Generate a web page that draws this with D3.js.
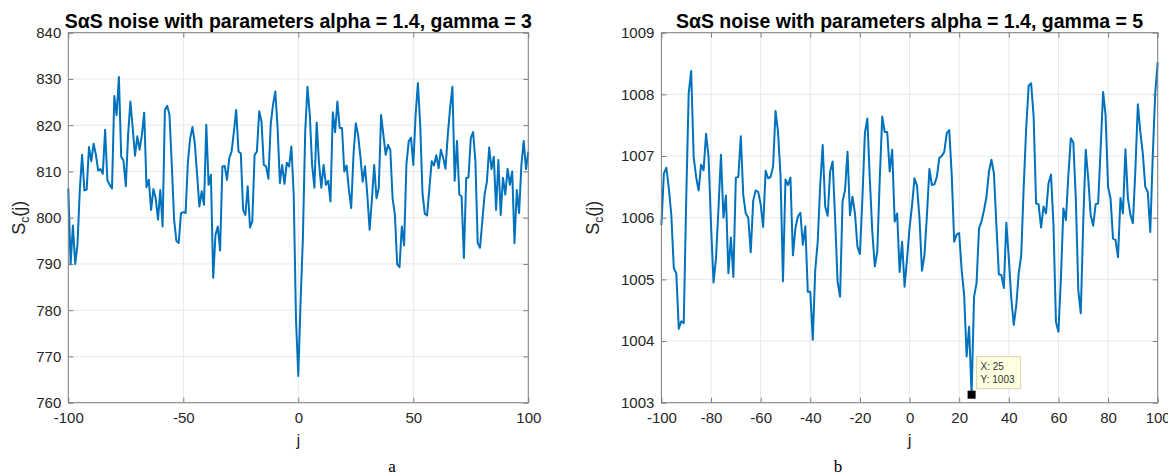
<!DOCTYPE html>
<html><head><meta charset="utf-8">
<script src="https://cdn.jsdelivr.net/npm/d3@7"></script>
<style>
html,body{margin:0;padding:0;background:#fff;}
svg text{font-family:"Liberation Sans",Arial,Helvetica,sans-serif;}
</style></head>
<body>
<svg id="chart" width="1168" height="475"></svg>
<script>
// ---------------- data ----------------
const jValues = d3.range(-100, 101);   // integer lags j = -100 ... 100

const seriesA = [
806.3,789.9,798.3,790,794.2,806,813.6,805.9,806.1,815.3,
812.2,816,813.6,810.2,810.5,809.5,819,808.1,807.1,806.3,
826.3,822.2,830.4,813.2,812.3,806.8,817.9,825.1,819.4,813.4,
817.6,814.7,817.9,822.7,806.6,808.2,801.7,806.2,804.2,799.6,
806,798.1,823.3,824.2,822.2,811.4,799.6,795,794.5,801,
801.2,801,812,817.2,819.6,816.1,809.3,802.4,805.7,802.8,
820.1,807.1,809.3,787,796.3,798.1,792.9,811.1,811.2,808.2,
812.9,814.3,818.6,823.3,814.3,813.9,801.7,800.6,806.8,797.9,
799.2,813.6,814.3,823,820.8,811.4,811.1,808.4,820.1,824.4,
827.3,819.4,807.5,811.4,807.3,811.9,811.1,815.4,805,778,
765.8,782,795.6,818.6,828.3,822.2,811.4,806.5,820.6,811.8,
806.5,811.4,807.1,808,803.5,822.8,818.5,825.1,819.4,819.4,
810,811.3,806,802.1,813.6,820.4,817.9,813.2,807.8,811.1,
805,797.4,803.9,811.4,804.2,806.4,822.2,817.9,813.6,815.7,
814.7,804.2,800.6,789.9,789.3,798.1,794,811.4,816.5,817.3,
811.4,822.2,829.1,820.1,805.3,800.8,800.5,806.4,812.2,811.3,
813.5,810.7,814.7,812.9,810.6,817.9,823.7,828.3,808,816.6,
805,804.6,791.3,808.6,808.7,817.2,818.5,812.2,794.5,793.5,
799.2,805,807.8,815.2,810.5,813.2,801.7,812.5,800.6,808.6,
805,810.6,807.1,810,794.5,806,801,811.4,816.6,810.5,
814.3
];

const seriesB = [
1005.88,1006.72,1006.81,1006.48,1006.04,1005.18,1005.1,1004.2,1004.32,1004.29,
1006.3,1008.02,1008.38,1006.99,1006.66,1006.44,1006.86,1006.77,1007.36,1006.99,
1005.88,1004.95,1005.34,1006.15,1007.02,1006.0,1006.36,1005.1,1005.68,1005.04,
1006.65,1006.66,1007.32,1006.36,1006.07,1006.0,1005.44,1006.28,1006.44,1006.42,
1006.22,1005.85,1006.76,1006.64,1006.66,1006.83,1007.73,1007.39,1006.69,1004.97,
1006.62,1006.53,1006.65,1005.39,1005.83,1006.02,1006.08,1005.56,1005.86,1004.8,
1004.8,1004.02,1005.15,1005.62,1006.53,1007.18,1006.18,1006.03,1006.75,1006.91,
1005.99,1004.96,1004.72,1006.26,1006.45,1007.07,1006.04,1006.34,1006.07,1005.53,
1005.41,1006.31,1007.37,1007.61,1006.61,1005.77,1005.21,1005.45,1006.64,1007.64,
1007.39,1007.39,1006.75,1007.1,1005.94,1006.07,1005.12,1005.61,1004.88,1005.34,
1005.83,1006.2,1006.64,1006.52,1005.99,1005.14,1005.39,1006.04,1006.79,1006.53,
1006.54,1006.66,1006.97,1007.0,1007.07,1007.37,1007.42,1006.69,1005.61,1005.73,
1005.75,1005.15,1004.75,1003.75,1004.23,1003.13,1004.72,1004.94,1005.83,1005.94,
1006.12,1006.34,1006.75,1006.94,1006.72,1005.88,1005.08,1005.07,1004.86,1005.92,
1005.34,1004.69,1004.26,1004.58,1005.1,1005.39,1006.5,1007.45,1008.14,1008.18,
1007.64,1006.23,1006.22,1005.84,1006.18,1006.07,1006.56,1006.7,1005.88,1004.31,
1004.15,1005.02,1006.15,1005.96,1006.69,1007.29,1007.22,1006.31,1004.83,1004.45,
1005.94,1007.1,1006.64,1006.04,1005.87,1006.22,1006.23,1007.12,1008.04,1007.66,
1006.5,1006.31,1005.66,1005.64,1005.36,1006.32,1006.07,1007.11,1006.31,1006.05,
1005.91,1006.77,1007.84,1007.39,1007.04,1006.5,1006.42,1005.77,1006.99,1008.02,
1008.52
];

const xTicksA = [-100, -50, 0, 50, 100];
const yTicksA = [760, 770, 780, 790, 800, 810, 820, 830, 840];
const xTicksB = [-100, -80, -60, -40, -20, 0, 20, 40, 60, 80, 100];
const yTicksB = [1003, 1004, 1005, 1006, 1007, 1008, 1009];

const titleA = "SαS noise with parameters alpha = 1.4, gamma = 3";
const titleB = "SαS noise with parameters alpha = 1.4, gamma = 5";
const captions = ["a", "b"];
const datatipJ = 25;
const datatipLabel = ["X: 25", "Y: 1003"];

// ---------------- drawing ----------------
const svg = d3.select("#chart");
const lineColor = "#0072BD";
const axisColor = "#7f7f7f";
const gridColor = "#e8e8e8";
const textColor = "#262626";
const fmt = d => String(d);   // plain hyphen-minus like MATLAB

function panel(cfg) {
  const x = d3.scaleLinear().domain([-100, 100]).range([cfg.x0, cfg.x1]);
  const y = d3.scaleLinear().domain(cfg.yDomain).range([cfg.y1, cfg.y0]);
  const g = svg.append("g");

  // grid
  g.append("g").selectAll("line").data(cfg.xTicks).join("line")
    .attr("x1", d => x(d)).attr("x2", d => x(d))
    .attr("y1", cfg.y0).attr("y2", cfg.y1)
    .attr("stroke", gridColor).attr("stroke-width", 1);
  g.append("g").selectAll("line").data(cfg.yTicks).join("line")
    .attr("x1", cfg.x0).attr("x2", cfg.x1)
    .attr("y1", d => y(d)).attr("y2", d => y(d))
    .attr("stroke", gridColor).attr("stroke-width", 1);

  // data line
  const pts = jValues.map((j, i) => [j, cfg.values[i]]);
  g.append("path").datum(pts)
    .attr("fill", "none").attr("stroke", lineColor).attr("stroke-width", 2)
    .attr("stroke-linejoin", "round")
    .attr("d", d3.line().x(d => x(d[0])).y(d => y(d[1])));

  // axes (ticks inside)
  const styleAxis = sel => {
    sel.select(".domain").remove();
    sel.selectAll(".tick line").attr("stroke", axisColor);
    sel.selectAll(".tick text").attr("fill", textColor)
      .style("font-size", "15px").style("font-family", '"Liberation Sans",Arial,sans-serif');
  };
  g.append("g").attr("transform", `translate(0,${cfg.y1})`)
    .call(d3.axisBottom(x).tickValues(cfg.xTicks).tickSizeInner(-5).tickSizeOuter(0).tickPadding(10).tickFormat(fmt))
    .call(styleAxis);
  g.append("g").attr("transform", `translate(0,${cfg.y0})`)
    .call(d3.axisTop(x).tickValues(cfg.xTicks).tickSizeInner(-5).tickSizeOuter(0).tickFormat(""))
    .call(styleAxis);
  g.append("g").attr("transform", `translate(${cfg.x0},0)`)
    .call(d3.axisLeft(y).tickValues(cfg.yTicks).tickSizeInner(-5).tickSizeOuter(0).tickPadding(7).tickFormat(fmt))
    .call(styleAxis);
  g.append("g").attr("transform", `translate(${cfg.x1},0)`)
    .call(d3.axisRight(y).tickValues(cfg.yTicks).tickSizeInner(-5).tickSizeOuter(0).tickFormat(""))
    .call(styleAxis);

  // box
  g.append("rect").attr("x", cfg.x0).attr("y", cfg.y0)
    .attr("width", cfg.x1 - cfg.x0).attr("height", cfg.y1 - cfg.y0)
    .attr("fill", "none").attr("stroke", axisColor).attr("stroke-width", 1);

  const cx = (cfg.x0 + cfg.x1) / 2, cy = (cfg.y0 + cfg.y1) / 2;
  // title
  g.append("text").attr("x", cx).attr("y", 27.5).attr("text-anchor", "middle")
    .attr("fill", "#000").style("font-size", "19.5px").style("font-weight", "bold")
    .text(cfg.title);
  // x label
  g.append("text").attr("x", cx).attr("y", 446).attr("text-anchor", "middle")
    .attr("fill", textColor).style("font-size", "17px").text("j");
  // y label
  const yl = g.append("text").attr("transform", `translate(${cfg.ylx},${cy}) rotate(-90)`)
    .attr("text-anchor", "middle").attr("fill", textColor).style("font-size", "18px");
  yl.append("tspan").text("S");
  yl.append("tspan").attr("dy", 4).style("font-size", "12px").text("c");
  yl.append("tspan").attr("dy", -4).text("(j)");
  // caption
  g.append("text").attr("x", cfg.capX).attr("y", 472).attr("text-anchor", "middle")
    .attr("fill", "#000").style("font-family", '"Liberation Serif","Times New Roman",serif')
    .style("font-size", "17px").text(cfg.caption);

  return {x, y, g};
}

const pA = panel({x0: 68.3, x1: 528.3, y0: 32.7, y1: 402.7, yDomain: [760, 840],
  values: seriesA, xTicks: xTicksA, yTicks: yTicksA, title: titleA, ylx: 25, capX: 392, caption: captions[0]});
const pB = panel({x0: 661.4, x1: 1157.7, y0: 32.7, y1: 402.7, yDomain: [1003, 1009],
  values: seriesB, xTicks: xTicksB, yTicks: yTicksB, title: titleB, ylx: 599, capX: 838, caption: captions[1]});

// datatip on panel b
const di = jValues.indexOf(datatipJ);
const mx = pB.x(datatipJ), my = pB.y(seriesB[di]);
pB.g.append("rect").attr("x", mx - 4).attr("y", my - 4).attr("width", 8).attr("height", 8)
  .attr("fill", "#000");
pB.g.append("rect").attr("x", mx + 5).attr("y", my - 38).attr("width", 44).attr("height", 32)
  .attr("fill", "#ffffe1").attr("stroke", "#d8d8b0").attr("stroke-width", 1);
datatipLabel.forEach((t, i) => {
  pB.g.append("text").attr("x", mx + 9).attr("y", my - 25 + i * 13)
    .attr("fill", "#333").style("font-size", "10px").text(t);
});
</script>
</body></html>
